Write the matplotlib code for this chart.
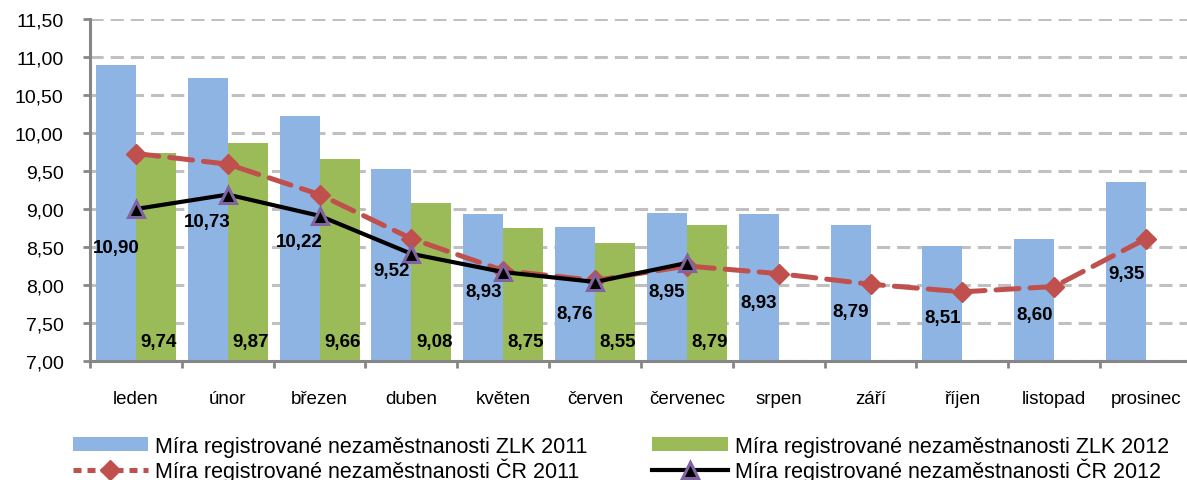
import numpy as np
import matplotlib
matplotlib.use("Agg")
import matplotlib.pyplot as plt
from matplotlib.patches import Patch
from matplotlib.lines import Line2D

months = ["leden", "únor", "březen", "duben", "květen", "červen", "červenec",
          "srpen", "září", "říjen", "listopad", "prosinec"]

zlk_2011 = [10.90, 10.73, 10.22, 9.52, 8.93, 8.76, 8.95, 8.93, 8.79, 8.51, 8.60, 9.35]
zlk_2012 = [9.74, 9.87, 9.66, 9.08, 8.75, 8.55, 8.79]
cr_2011 = [9.73, 9.59, 9.19, 8.61, 8.19, 8.06, 8.25, 8.15, 8.01, 7.91, 7.98, 8.61]
cr_2012 = [9.00, 9.19, 8.91, 8.41, 8.17, 8.04, 8.29]

series_names = [
    "Míra registrované nezaměstnanosti ZLK 2011",
    "Míra registrované nezaměstnanosti ZLK 2012",
    "Míra registrované nezaměstnanosti ČR 2011",
    "Míra registrované nezaměstnanosti ČR 2012",
]

# where the labels of the 2011 bars sit (as in the original export)
label_y_2011 = [8.49, 8.83, 8.57, 8.19, 7.91, 7.62, 7.92, 7.77, 7.65, 7.57, 7.61, 8.15]
label_y_2012 = 7.25

BLUE = "#8EB4E3"
GREEN = "#9BBB59"
RED = "#C0504D"
PURPLE = "#8064A2"
AXIS_GRAY = "#868686"

plt.rcParams["font.family"] = ["Liberation Sans", "DejaVu Sans"]

fig = plt.figure(figsize=(11.87, 4.81), dpi=100)
ax = fig.add_axes([90 / 1187, 1 - 362 / 481, 1102 / 1187, 342 / 481])

x = np.arange(len(months))
w = 0.436

ax.bar(x[:len(zlk_2011)] - w / 2, zlk_2011, width=w, color=BLUE, zorder=2)
ax.bar(x[:len(zlk_2012)] + w / 2, zlk_2012, width=w, color=GREEN, zorder=2)

ax.plot(x[:len(cr_2011)], cr_2011, color=RED, lw=3.6, linestyle=(0, (4.6, 2.2)),
        dash_capstyle="round", marker="D", markersize=10, markerfacecolor=RED,
        markeredgecolor=RED, zorder=3)
ax.plot(x[:len(cr_2012)], cr_2012, color="black", lw=3.0, marker="^", markersize=12,
        markerfacecolor="black", markeredgecolor=PURPLE, markeredgewidth=2.2, zorder=4)

for i, v in enumerate(zlk_2011):
    ax.text(x[i] - w / 2, label_y_2011[i], f"{v:.2f}".replace(".", ","),
            ha="center", va="center", fontsize=13.5, fontweight="bold", zorder=5)
for i, v in enumerate(zlk_2012):
    ax.text(x[i] + w / 2 + 0.03, label_y_2012, f"{v:.2f}".replace(".", ","),
            ha="center", va="center", fontsize=13.5, fontweight="bold", zorder=5)

ax.set_xlim(-0.5, len(months) - 0.5)
ax.set_ylim(7.0, 11.5)
ax.set_yticks(np.arange(7.0, 11.51, 0.5))
ax.set_yticklabels([f"{t:.2f}".replace(".", ",") for t in np.arange(7.0, 11.51, 0.5)])
ax.set_xticks(x)
ax.set_xticklabels(months)
ax.set_xticks(np.arange(-0.5, len(months), 1), minor=True)

ax.yaxis.grid(True, color="#C0C0C0", lw=2.2, linestyle=(0, (4.3, 2.3)), zorder=0)
ax.set_axisbelow(True)

for side in ["top", "right"]:
    ax.spines[side].set_visible(False)
for side in ["left", "bottom"]:
    ax.spines[side].set_color(AXIS_GRAY)
    ax.spines[side].set_linewidth(2.2)

ax.tick_params(axis="x", which="major", length=0, pad=21, labelsize=13.5)
ax.tick_params(axis="x", which="minor", length=5, width=2, color=AXIS_GRAY)
ax.tick_params(axis="y", length=5, width=2, color=AXIS_GRAY, pad=14, labelsize=14)

handles = [
    Patch(facecolor=BLUE, edgecolor="none"),
    Patch(facecolor=GREEN, edgecolor="none"),
    Line2D([], [], color=RED, lw=3.6, linestyle=(0, (1.6, 1.2)), marker="D",
           markersize=10, markerfacecolor=RED, markeredgecolor=RED),
    Line2D([], [], color="black", lw=3.0, marker="^", markersize=12,
           markerfacecolor="black", markeredgecolor=PURPLE, markeredgewidth=2.2),
]
# legend is filled column by column, so reorder to get the rows right
order = [0, 2, 1, 3]
fig.legend([handles[i] for i in order], [series_names[i] for i in order],
           loc="upper left", bbox_to_anchor=(64 / 1187, 1 - 428 / 481),
           ncol=2, frameon=False, fontsize=15.5, handlelength=3.5, handleheight=0.6,
           handletextpad=0.35, columnspacing=3.0, labelspacing=0.05, borderaxespad=0)

fig.savefig("out.png", dpi=100)
